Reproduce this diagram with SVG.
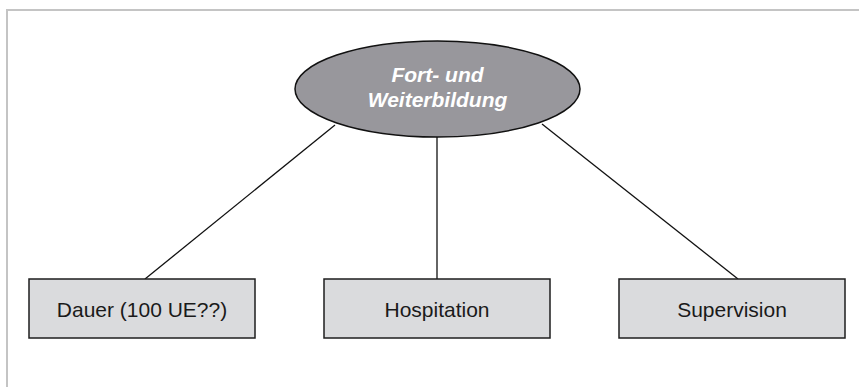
<svg xmlns="http://www.w3.org/2000/svg" width="859" height="387" viewBox="0 0 859 387">
<style>
.frame{fill:none;stroke:#c4c4c4;stroke-width:2}
.box{fill:#dadbdd;stroke:#1e1e1e;stroke-width:1.5}
.lbl{font-family:"Liberation Sans",Arial,sans-serif;font-size:21px;fill:#1a1a1a;text-anchor:middle}
.root{fill:#98979c;stroke:#111;stroke-width:1.5}
.rlbl{font-family:"Liberation Sans",Arial,sans-serif;font-size:21px;font-weight:bold;font-style:italic;fill:#ffffff;text-anchor:middle}
.conn{stroke:#111;stroke-width:1.3;fill:none}
</style>
<rect width="859" height="387" fill="#ffffff"/>
<path class="frame" d="M7 387 V10 H859"/>
<g id="connectors">
<line class="conn" x1="335" y1="125" x2="145" y2="279"/>
<line class="conn" x1="437" y1="137" x2="437" y2="279"/>
<line class="conn" x1="542" y1="124" x2="738" y2="279"/>
</g>
<g id="root">
<ellipse class="root" cx="437.5" cy="89" rx="142.5" ry="48"/>
<text class="rlbl" x="437.5" y="82">Fort- und</text>
<text class="rlbl" x="437.5" y="107">Weiterbildung</text>
</g>
<g id="dauer">
<rect class="box" x="29" y="279" width="226" height="59"/>
<text class="lbl" x="142" y="317">Dauer (100 UE??)</text>
</g>
<g id="hospitation">
<rect class="box" x="324" y="279" width="226" height="59"/>
<text class="lbl" x="437" y="317">Hospitation</text>
</g>
<g id="supervision">
<rect class="box" x="619" y="279" width="226" height="59"/>
<text class="lbl" x="732" y="317">Supervision</text>
</g>
</svg>
